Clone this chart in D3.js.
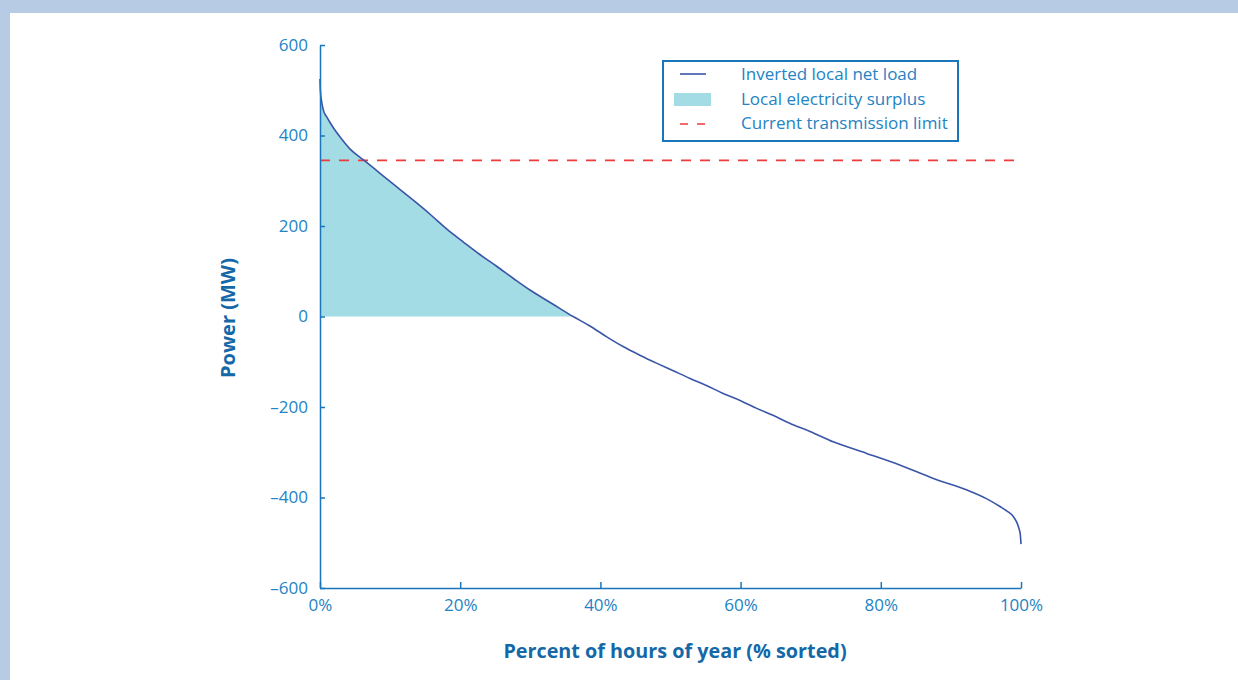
<!DOCTYPE html>
<html>
<head>
<meta charset="utf-8">
<script src="https://cdn.jsdelivr.net/npm/d3@7"></script>
<style>
  html, body { margin: 0; padding: 0; background: #b8cbe4; }
  #chart { position: absolute; left: 10px; top: 13px; width: 1228px; height: 667px; background: #fff; }
  text { font-family: "Open Sans", sans-serif; }
</style>
</head>
<body>
<div id="chart"></div>
<script>
// Sorted duration curve (percent of hours vs MW)
var hourPct = [0, 0.05, 0.2, 0.5, 1, 1.5, 2, 3, 4.3, 6.2, 8.6, 11, 13.3, 15.7, 18.1, 20.5,
  22.8, 25.2, 27.6, 30, 32.3, 34.2, 36.1, 38.5, 40.9, 43.3, 45.7, 48, 50.4, 52.8, 55.2,
  57.5, 60, 62.3, 64.7, 67, 69.9, 73.2, 77.9, 82.7, 87.5, 92.2, 95, 97, 98, 98.9, 99.4,
  99.7, 99.9, 100];
var netLoad = [525, 500, 478, 455, 440, 427, 415, 394, 370, 346, 316, 286, 257, 226, 193, 164,
  137, 111, 84, 58, 36, 18, 0, -21, -45, -67, -86, -103, -120, -137, -153,
  -170, -186, -203, -219, -236, -254, -277, -302, -328, -358, -383, -402, -420, -430, -442, -455,
  -468, -482, -503];
var transmissionLimit = 345;
var yTicks = [600, 400, 200, 0, -200, -400, -600];
var xTicks = [0, 20, 40, 60, 80, 100];
var legendLabels = ["Inverted local net load", "Local electricity surplus", "Current transmission limit"];

var width = 1228, height = 667, ox = 10, oy = 13;
var axisColor = "#1b75bb", textColor = "#2383c4", titleColor = "#1468a8";

var svg = d3.select("#chart").append("svg")
  .attr("width", width).attr("height", height);

var x = d3.scaleLinear().domain([0, 100]).range([320 - ox, 1021 - ox]);
var y = d3.scaleLinear().domain([-600, 600]).range([588 - oy, 45 - oy]);

var data = hourPct.map(function(p, i) { return { p: p, v: netLoad[i] }; });
var surplus = data.filter(function(d) { return d.v >= 0; });

// surplus fill
svg.append("path")
  .datum(surplus)
  .attr("fill", "#a3dce4")
  .attr("d", d3.area()
    .curve(d3.curveMonotoneX)
    .x(function(d) { return x(d.p); })
    .y0(y(0))
    .y1(function(d) { return y(d.v); }));

// transmission limit
svg.append("line")
  .attr("x1", x(0)).attr("x2", x(100))
  .attr("y1", y(transmissionLimit)).attr("y2", y(transmissionLimit))
  .attr("stroke", "#ee3a3a").attr("stroke-width", 1.6)
  .attr("stroke-dasharray", "10,9");

// net load curve
svg.append("path")
  .datum(data)
  .attr("fill", "none")
  .attr("stroke", "#3a55a8")
  .attr("stroke-width", 1.6)
  .attr("d", d3.line()
    .curve(d3.curveMonotoneX)
    .x(function(d) { return x(d.p); })
    .y(function(d) { return y(d.v); }));

// y axis
var yAxis = svg.append("g")
  .attr("transform", "translate(" + x(0) + ",0)")
  .call(d3.axisRight(y).tickValues(yTicks).tickSize(5).tickSizeOuter(0)
    .tickFormat(function(d) { return d < 0 ? "\u2013" + Math.abs(d) : d; }));
yAxis.select(".domain").attr("stroke", axisColor).attr("stroke-width", 1.5);
yAxis.selectAll(".tick line").attr("stroke", axisColor).attr("stroke-width", 1.5);
yAxis.selectAll(".tick text")
  .attr("x", -12).attr("text-anchor", "end")
  .attr("fill", textColor).style("font-size", "17px");

// x axis
var xAxis = svg.append("g")
  .attr("transform", "translate(0," + y(-600) + ")")
  .call(d3.axisTop(x).tickValues(xTicks).tickSize(6).tickSizeOuter(0)
    .tickFormat(function(d) { return d + "%"; }));
xAxis.select(".domain").attr("stroke", axisColor).attr("stroke-width", 1.5);
xAxis.selectAll(".tick text")
  .attr("y", 23).attr("dy", "0")
  .attr("fill", textColor).style("font-size", "17px");
xAxis.selectAll(".tick line").attr("stroke", axisColor).attr("stroke-width", 1.5);

// axis titles
svg.append("text")
  .attr("transform", "translate(" + (235 - ox) + "," + (318 - oy) + ") rotate(-90)")
  .attr("text-anchor", "middle")
  .attr("fill", titleColor)
  .style("font-size", "20px").style("font-weight", "bold")
  .text("Power (MW)");

svg.append("text")
  .attr("x", 675 - ox).attr("y", 658 - oy)
  .attr("text-anchor", "middle")
  .attr("fill", titleColor)
  .style("font-size", "19.8px").style("font-weight", "bold")
  .text("Percent of hours of year (% sorted)");

// legend
var legend = svg.append("g").attr("transform", "translate(" + (663 - ox) + "," + (61 - oy) + ")");
legend.append("rect")
  .attr("width", 295).attr("height", 80)
  .attr("fill", "#fff").attr("stroke", axisColor).attr("stroke-width", 2);
legend.append("line")
  .attr("x1", 17).attr("x2", 43).attr("y1", 13).attr("y2", 13)
  .attr("stroke", "#3a55a8").attr("stroke-width", 1.6);
legend.append("rect")
  .attr("x", 11).attr("y", 32).attr("width", 37).attr("height", 13)
  .attr("fill", "#a3dce4");
legend.append("line")
  .attr("x1", 17).attr("x2", 43).attr("y1", 63).attr("y2", 63)
  .attr("stroke", "#ee3a3a").attr("stroke-width", 1.6)
  .attr("stroke-dasharray", "8,9");
legend.selectAll("text.lbl")
  .data(legendLabels).enter().append("text")
  .attr("class", "lbl")
  .attr("x", 78)
  .attr("y", function(d, i) { return 19 + i * 24.5; })
  .attr("fill", textColor)
  .style("font-size", "17px")
  .text(function(d) { return d; });
</script>
</body>
</html>
